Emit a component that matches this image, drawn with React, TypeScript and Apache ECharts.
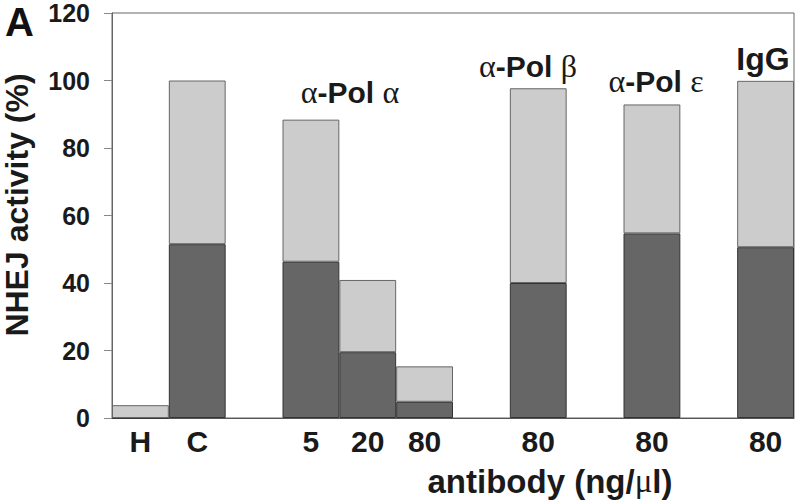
import React, { useEffect, useRef } from "react";
import * as echarts from "echarts";

const categories = ["H", "C", "", "5", "20", "80", "", "80", "", "80", "", "80"];
const totalActivity: (number | null)[] = [3.8, 100, null, 88.4, 40.9, 15.3, null, 97.7, null, 92.9, null, 99.9];
const darkActivity: (number | null)[] = [0, 51.5, null, 46.3, 19.5, 4.8, null, 40.0, null, 54.7, null, 50.6];
const yTicks = { min: 0, max: 120, interval: 20 };

const SANS = "'Liberation Sans', Arial, sans-serif";
const SERIF = "'Liberation Serif', 'Times New Roman', serif";

export default function App() {
  const ref = useRef<HTMLDivElement>(null);
  useEffect(() => {
    if (!ref.current) return;
    const chart = echarts.init(ref.current, null, { renderer: "svg" });
    const lightPart = totalActivity.map((t, i) =>
      t == null ? null : +(t - (darkActivity[i] ?? 0)).toFixed(2)
    );
    const rich = {
      a: { fontFamily: SERIF, fontSize: 32, fontWeight: "normal", fill: "#1a1a1a" },
      b: { fontFamily: SANS, fontSize: 30, fontWeight: "bold", fill: "#1a1a1a" },
    };
    const groupLabel = (text: string, x: number, y: number) => ({
      type: "text",
      x,
      y,
      style: {
        text,
        align: "center",
        verticalAlign: "middle",
        rich,
        fontFamily: SANS,
        fontSize: 30,
        fontWeight: "bold",
        fill: "#1a1a1a",
      },
    });
    chart.setOption({
      animation: false,
      backgroundColor: "#ffffff",
      grid: {
        left: 112,
        top: 13,
        right: 6,
        bottom: 85,
        containLabel: false,
        outerBoundsMode: "none",
        show: true,
        borderColor: "#666",
        borderWidth: 1,
        backgroundColor: "transparent",
      },
      xAxis: {
        type: "category",
        data: categories,
        axisLine: { lineStyle: { color: "#555", width: 1 } },
        axisTick: { show: false },
        axisLabel: {
          interval: 0,
          margin: 8,
          fontFamily: SANS,
          fontWeight: "bold",
          fontSize: 30,
          color: "#1a1a1a",
        },
      },
      yAxis: {
        type: "value",
        min: yTicks.min,
        max: yTicks.max,
        interval: yTicks.interval,
        splitLine: { show: false },
        axisLine: { show: true, lineStyle: { color: "#666", width: 1 } },
        axisTick: { show: true, length: 8, lineStyle: { color: "#888" } },
        axisLabel: {
          margin: 22,
          fontFamily: SANS,
          fontWeight: "bold",
          fontSize: 25,
          lineHeight: 22,
          color: "#1a1a1a",
        },
      },
      series: [
        {
          type: "bar",
          stack: "act",
          data: darkActivity,
          barWidth: "100%",
          barCategoryGap: "0%",
          itemStyle: { color: "#666666", borderColor: "#333", borderWidth: 1 },
        },
        {
          type: "bar",
          stack: "act",
          data: lightPart,
          barWidth: "100%",
          barCategoryGap: "0%",
          itemStyle: { color: "#cccccc", borderColor: "#666", borderWidth: 1 },
        },
      ],
      graphic: [
        {
          type: "text",
          left: 5,
          top: 2,
          style: { text: "A", font: `bold 40px ${SANS}`, fill: "#111" },
        },
        {
          type: "text",
          x: 17,
          y: 205,
          rotation: Math.PI / 2,
          style: {
            text: "NHEJ activity (%)",
            align: "center",
            verticalAlign: "middle",
            font: `bold 32px ${SANS}`,
            fill: "#1a1a1a",
          },
        },
        groupLabel("{a|α}{b|-Pol} {a|α}", 350, 92),
        groupLabel("{a|α}{b|-Pol} {a|β}", 528, 66),
        groupLabel("{a|α}{b|-Pol} {a|ε}", 656, 81),
        {
          type: "text",
          x: 763,
          y: 59,
          style: {
            text: "IgG",
            align: "center",
            verticalAlign: "middle",
            font: `bold 32px ${SANS}`,
            fill: "#1a1a1a",
          },
        },
        {
          type: "text",
          x: 550,
          y: 481,
          style: {
            text: "{b|antibody (ng/}{a|μ}{b|l)}",
            align: "center",
            verticalAlign: "middle",
            fontFamily: SANS,
            fontSize: 33,
            fontWeight: "bold",
            rich: {
              a: { fontFamily: SERIF, fontSize: 33, fontWeight: "normal", fill: "#1a1a1a" },
              b: { fontFamily: SANS, fontSize: 33, fontWeight: "bold", fill: "#1a1a1a" },
            },
            fill: "#1a1a1a",
          },
        },
      ],
    });
    return () => chart.dispose();
  }, []);
  return (
    <div
      ref={ref}
      style={{ position: "fixed", left: 0, top: 0, width: 800, height: 503 }}
    />
  );
}
